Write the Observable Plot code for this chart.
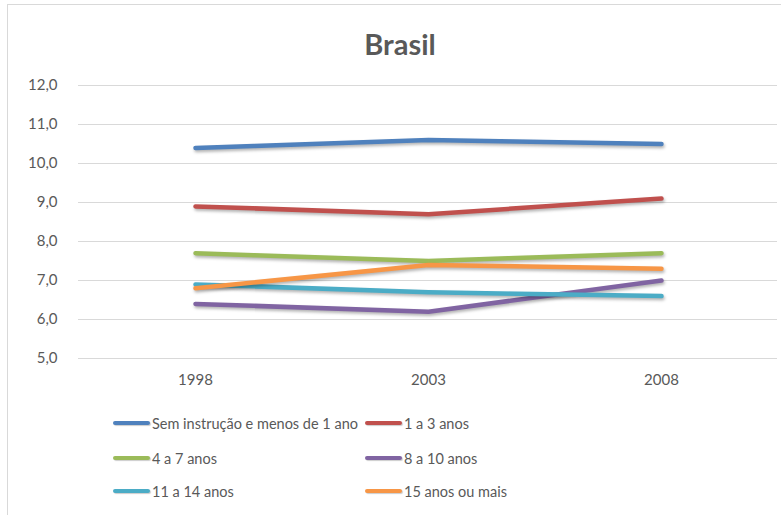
<!DOCTYPE html>
<html>
<head>
<meta charset="utf-8">
<script src="https://cdn.jsdelivr.net/npm/d3@7"></script>
<script src="https://cdn.jsdelivr.net/npm/@observablehq/plot@0.6"></script>
<style>
  html, body { margin: 0; padding: 0; background: #fff; overflow: hidden; width: 781px; height: 515px; }
  body { position: relative; font-family: Lato, "Noto Sans", sans-serif; color: #595959; }
  #frame { position: absolute; left: 7px; top: 4px; width: 800px; height: 540px; border: 1px solid #d9d9d9; box-sizing: border-box; }
  #title { position: absolute; left: 0; width: 800px; top: 26px; text-align: center; font-size: 29px; font-weight: bold; color: #595959; }
  #chart { position: absolute; left: 0; top: 0; }
  #chart g[aria-label="line"] path { filter: drop-shadow(1px 2px 1.5px rgba(0,0,0,0.3)); }
  .leg { position: absolute; display: flex; align-items: center; font-size: 14.5px; color: #595959; white-space: nowrap; }
  .sw { width: 37px; height: 4.5px; border-radius: 3px; margin-right: 2px; box-shadow: 1px 1px 1px rgba(0,0,0,0.2); }
</style>
</head>
<body>
<div id="frame"></div>
<div id="chart"></div>
<div id="title">Brasil</div>
<div id="legend"></div>
<script>
const years = ["1998", "2003", "2008"];
const seriesNames = [
  "Sem instrução e menos de 1 ano",
  "1 a 3 anos",
  "4 a 7 anos",
  "8 a 10 anos",
  "11 a 14 anos",
  "15 anos ou mais"
];
const semInstrucao = [10.4, 10.6, 10.5];
const anos1a3 = [8.9, 8.7, 9.1];
const anos4a7 = [7.7, 7.5, 7.7];
const anos8a10 = [6.4, 6.2, 7.0];
const anos11a14 = [6.9, 6.7, 6.6];
const anos15mais = [6.8, 7.4, 7.3];
const colors = ["#4F81BD", "#C0504D", "#9BBB59", "#8064A2", "#4BACC6", "#F79646"];
const yTicks = [5, 6, 7, 8, 9, 10, 11, 12];

const seriesValues = [semInstrucao, anos1a3, anos4a7, anos8a10, anos11a14, anos15mais];
const data = [];
seriesNames.forEach((name, i) => {
  years.forEach((yr, j) => data.push({ series: name, year: yr, value: seriesValues[i][j] }));
});

const fmt = d => d.toFixed(1).replace(".", ",");

const plot = Plot.plot({
  width: 781,
  height: 400,
  marginLeft: 78,
  marginRight: 4,
  marginTop: 85,
  marginBottom: 42,
  style: { fontFamily: "Lato, 'Noto Sans', sans-serif", fontSize: "15px", color: "#595959", background: "transparent", overflow: "visible" },
  x: { type: "point", domain: years, padding: 0.5, label: null },
  y: { domain: [5, 12], label: null },
  color: { domain: seriesNames, range: colors },
  marks: [
    Plot.ruleY(yTicks, { stroke: "#d9d9d9", strokeWidth: 1 }),
    Plot.axisY({ ticks: yTicks, tickFormat: fmt, tickSize: 0, tickPadding: 21, fill: "#595959" }),
    Plot.axisX({ tickSize: 0, tickPadding: 16, fill: "#595959" }),
    Plot.line(data, { x: "year", y: "value", z: "series", stroke: "series", strokeWidth: 4.5, strokeLinecap: "round", strokeLinejoin: "round" })
  ]
});
document.getElementById("chart").appendChild(plot);

const legend = document.getElementById("legend");
const legPos = [
  [113, 423], [365, 423],
  [113, 458], [365, 458],
  [113, 491], [365, 491]
];
seriesNames.forEach((name, i) => {
  const item = document.createElement("div");
  item.className = "leg";
  item.style.left = legPos[i][0] + "px";
  item.style.top = (legPos[i][1] - 10) + "px";
  item.style.height = "20px";
  const sw = document.createElement("span");
  sw.className = "sw";
  sw.style.background = colors[i];
  const tx = document.createElement("span");
  tx.textContent = name;
  item.appendChild(sw);
  item.appendChild(tx);
  legend.appendChild(item);
});
</script>
</body>
</html>
